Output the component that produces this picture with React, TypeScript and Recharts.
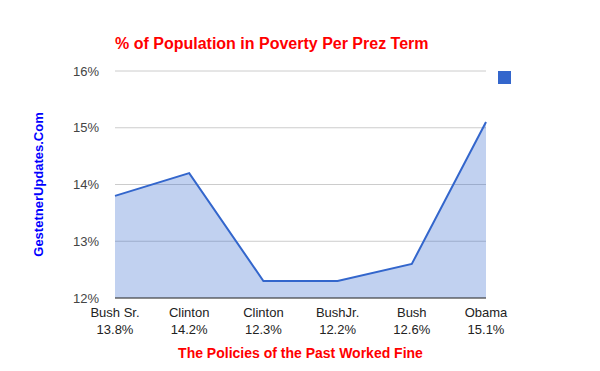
import { Area, AreaChart, CartesianGrid, Label, XAxis, YAxis } from "recharts";

const terms = ["Bush Sr.", "Clinton", "Clinton", "BushJr.", "Bush", "Obama"];
const termLabels = ["13.8%", "14.2%", "12.3%", "12.2%", "12.6%", "15.1%"];
const poverty = [13.8, 14.2, 12.3, 12.3, 12.6, 15.1];
const yTicks = [12, 13, 14, 15, 16];

const FONT = "Arial, 'Liberation Sans', sans-serif";

const data = terms.map((t, i) => ({ term: `${t}|${termLabels[i]}`, poverty: poverty[i] }));

function TermTick(props: any) {
  const { x, y, payload } = props;
  const [name, pct] = String(payload.value).split("|");
  return (
    <text x={x} y={y} textAnchor="middle" fill="#222" fontSize={13} fontFamily={FONT}>
      <tspan x={x} dy={11}>{name}</tspan>
      <tspan x={x} dy={17}>{pct}</tspan>
    </text>
  );
}

export default function App() {
  return (
    <div style={{ position: "absolute", left: 0, top: 0, width: 600, height: 371, background: "#fff", fontFamily: FONT }}>
      <div
        style={{
          position: "absolute",
          left: 115,
          top: 35,
          color: "#ff0000",
          fontWeight: "bold",
          fontSize: 16,
          whiteSpace: "nowrap",
        }}
      >
        % of Population in Poverty Per Prez Term
      </div>
      {/* legend marker, no text in the original */}
      <div style={{ position: "absolute", left: 498, top: 71, width: 13, height: 13, background: "#3366cc" }} />
      <AreaChart width={600} height={371} data={data} margin={{ top: 71, right: 114, bottom: 0, left: 0 }}>
        <CartesianGrid stroke="#cccccc" vertical={false} />
        <XAxis
          dataKey="term"
          height={73}
          tick={<TermTick />}
          tickLine={false}
          axisLine={{ stroke: "#333333", strokeWidth: 1 }}
          interval={0}
        >
          <Label
            content={(p: any) => (
              <text
                x={p.viewBox.x + p.viewBox.width / 2}
                y={358}
                textAnchor="middle"
                fill="#ff0000"
                fontWeight="bold"
                fontSize={14}
                fontFamily={FONT}
              >
                The Policies of the Past Worked Fine
              </text>
            )}
          />
        </XAxis>
        <YAxis
          width={115}
          domain={[12, 16]}
          ticks={yTicks}
          tickFormatter={(v: number) => `${v}%`}
          tickLine={false}
          axisLine={false}
          tickMargin={10}
          tick={{ fill: "#444", fontSize: 13, fontFamily: FONT }}
        >
          <Label
            content={(p: any) => {
              const cy = p.viewBox.y + p.viewBox.height / 2;
              return (
                <text
                  x={43}
                  y={cy}
                  transform={`rotate(-90 43 ${cy})`}
                  textAnchor="middle"
                  fill="#0000ff"
                  fontWeight="bold"
                  fontSize={13}
                  fontFamily={FONT}
                >
                  GestetnerUpdates.Com
                </text>
              );
            }}
          />
        </YAxis>
        <Area
          type="linear"
          dataKey="poverty"
          stroke="#3366cc"
          strokeWidth={2}
          fill="#3366cc"
          fillOpacity={0.3}
          isAnimationActive={false}
          dot={false}
          activeDot={false}
        />
      </AreaChart>
    </div>
  );
}
